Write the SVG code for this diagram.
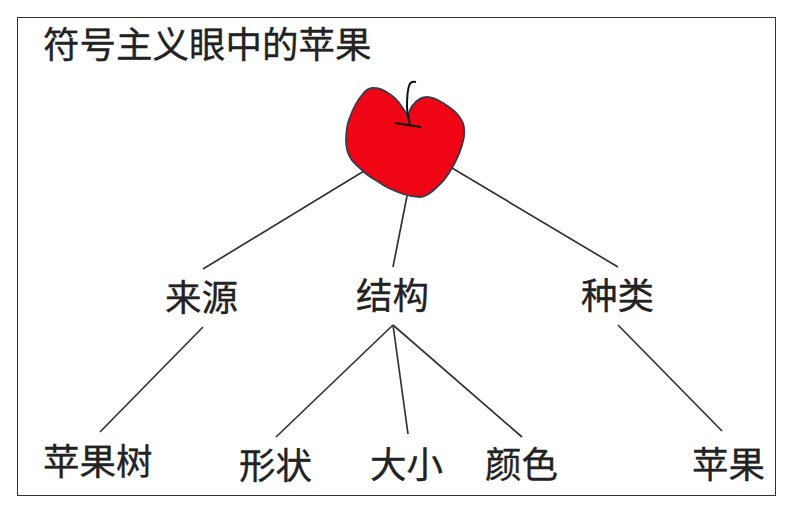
<svg xmlns="http://www.w3.org/2000/svg" width="805" height="519" viewBox="0 0 805 519">
<style>
text{font-family:"Noto Sans CJK SC","Noto Sans CJK JP",sans-serif;font-size:36.500px;fill:#222;stroke:#222;stroke-width:.35}
.c line{stroke:#333;stroke-width:1.7;fill:none}
</style>
<rect width="805" height="519" fill="#fff"/>
<rect x="17.500" y="17.500" width="758" height="478" fill="#fff" stroke="#333" stroke-width="1"/>
<g id="title"><text x="43" y="58">符号主义眼中的苹果</text></g>
<g class="c" id="connectors">
<line x1="364" y1="171" x2="203" y2="269"/>
<line x1="407" y1="196" x2="393" y2="267"/>
<line x1="452" y1="168" x2="618" y2="267"/>
<line x1="203" y1="327" x2="100" y2="432"/>
<line x1="393" y1="325" x2="276" y2="437"/>
<line x1="393" y1="325" x2="408" y2="434"/>
<line x1="393" y1="325" x2="522" y2="437"/>
<line x1="618" y1="325" x2="722" y2="431"/>
</g>
<g id="apple">
<path d="M373 88C379 88 384 90 388 93C395 97 399 102 402 107C405 111 407 114 408 118C409 112 410 108 413 105C417 100 422 97 427 97C433 97 438 100 443 103C449 107 454 110 458 115C462 120 464 124 464 128C465 134 464 139 462 145C460 153 456 161 452 168C448 175 443 182 437 187C432 192 426 197 420 197C414 197 409 196 403 194C395 191 387 188 380 183C374 179 368 176 363 171C358 166 353 163 350 157C347 152 346 146 346 140C346 132 347 124 350 117C353 109 357 101 362 95C365 91 369 88 373 88Z" fill="#f00514" stroke="#3a3a4a" stroke-width="1.800"/>
<path d="M416 82C412 81 410 82 409 86C407 92 407 98 407 107C407 113 409 119 410 125" fill="none" stroke="#111" stroke-width="2"/>
<path d="M395 123L421 127" fill="none" stroke="#111" stroke-width="2.200"/>
</g>
<g id="n1"><text x="165" y="311">来源</text></g>
<g id="n2"><text x="356" y="309">结构</text></g>
<g id="n3"><text x="581" y="309">种类</text></g>
<g id="n4"><text x="43" y="475">苹果树</text></g>
<g id="n5"><text x="239" y="479">形状</text></g>
<g id="n6"><text x="370" y="478">大小</text></g>
<g id="n7"><text x="485" y="478">颜色</text></g>
<g id="n8"><text x="692" y="478">苹果</text></g>
</svg>
